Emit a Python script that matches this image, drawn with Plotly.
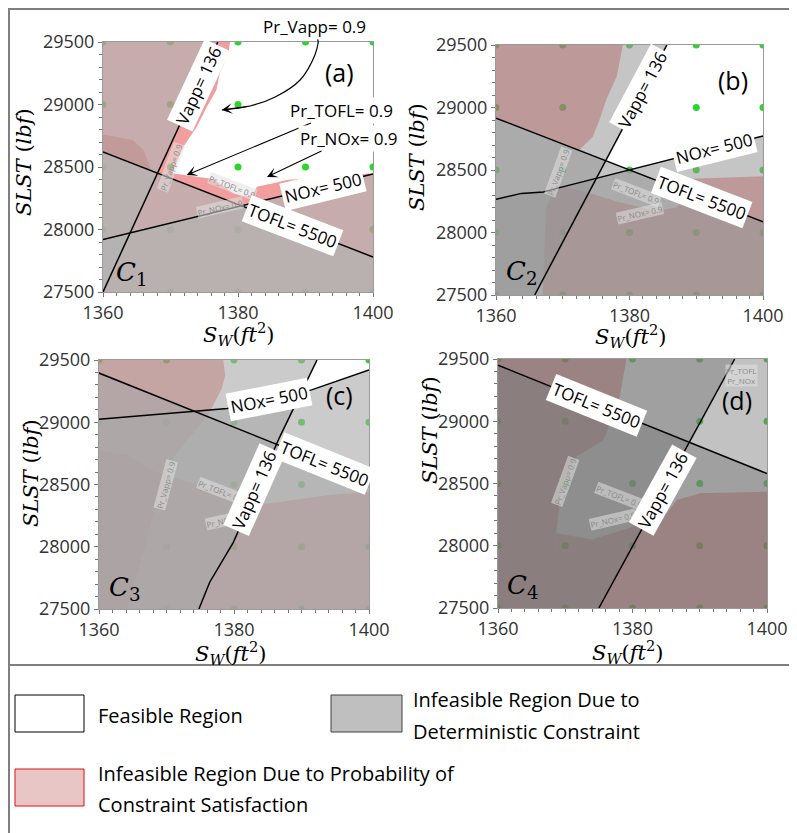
import plotly.graph_objects as go

# The page body adds an 8 px margin, so the figure is made 8 px smaller and every
# reference pixel position is shifted by that margin.
WIN_W, WIN_H = 797, 833
OFF = 8
W, H = WIN_W - OFF, WIN_H - OFF

# ---------------- data ----------------
X_RANGE = [1360, 1400]
Y_RANGE = [27500, 29500]
X_TICKS = [1360, 1380, 1400]
X_TICKTEXT = ["1360", "1380", "1400"]
Y_TICKS = [27500, 28000, 28500, 29000, 29500]
Y_TICKTEXT = ["27500", "28000", "28500", "29000", "29500"]
DOT_X = [1360, 1370, 1380, 1390, 1400]
DOT_Y = [27500, 28000, 28500, 29000, 29500]

# Panel (a)  C1
A_VAPP_X = [1360, 1377]
A_VAPP_Y = [27500, 29500]
A_TOFL_X = [1360, 1400]
A_TOFL_Y = [28620, 27780]
A_NOX_X = [1360, 1400]
A_NOX_Y = [27920, 28445]
A_PR_X = [1360, 1378.8, 1378.6, 1377.3, 1376.8, 1375.4, 1373.9, 1371.9, 1370.2, 1373.9, 1376.3,
          1379.3, 1381.3, 1382.3, 1382.8, 1385.2, 1387.2, 1393, 1400, 1400, 1360]
A_PR_Y = [29500, 29500, 29410, 29250, 29116, 28982, 28822, 28662, 28450, 28422, 28405,
          28290, 28262, 28290, 28343, 28370, 28396, 28425, 28450, 27500, 27500]
A_WEDGE_X = [1360, 1364.4, 1366, 1367.2, 1360]
A_WEDGE_Y = [28760, 28716, 28636, 28470, 28620]

# Panel (b)  C2
B_VAPP_X = [1365.8, 1385.6]
B_VAPP_Y = [27500, 29500]
B_TOFL_X = [1360, 1400]
B_TOFL_Y = [28915, 28085]
B_NOX_X = [1360, 1363.8, 1367.1, 1369.1, 1400]
B_NOX_Y = [28265, 28313, 28324, 28353, 28772]
B_PR1_X = [1360, 1379, 1378.1, 1376.5, 1375.5, 1374.5, 1372.5, 1360]
B_PR1_Y = [29500, 29500, 29250, 29060, 28900, 28766, 28660, 28915]
B_PR2_X = [1367, 1367.5, 1369, 1373, 1378, 1384, 1387, 1389, 1389.5, 1400, 1400]
B_PR2_Y = [27500, 28200, 28380, 28330, 28250, 28170, 28200, 28300, 28430, 28450, 27500]

# Panel (c)  C3
C_VAPP_X = [1374.8, 1376.4, 1379.9, 1386.8, 1392.3]
C_VAPP_Y = [27500, 27715, 28035, 28885, 29500]
C_TOFL_X = [1360, 1400]
C_TOFL_Y = [29395, 28525]
C_NOX_X = [1360, 1379, 1391.5, 1400]
C_NOX_Y = [29025, 29110, 29260, 29420]
C_PR1_X = [1360, 1378.4, 1378.7, 1378.2, 1376.2, 1373.7, 1371.3, 1369.3, 1368.3, 1366.8, 1365.3, 1364.3, 1360]
C_PR1_Y = [29500, 29500, 29380, 29273, 29058, 28898, 28737, 28522, 28311, 27990, 27717, 27500, 27500]
C_PR2_X = [1360, 1364.3, 1368.3, 1376.2, 1380, 1383.1, 1387, 1394, 1400, 1400, 1360]
C_PR2_Y = [28777, 28737, 28603, 28469, 28400, 28335, 28362, 28416, 28442, 27500, 27500]

# Panel (d)  C4
D_VAPP_X = [1375, 1395.2]
D_VAPP_Y = [27500, 29500]
D_TOFL_X = [1360, 1400]
D_TOFL_Y = [29450, 28580]
D_PR1_X = [1360, 1379.1, 1378.1, 1375.7, 1371.7, 1369.5, 1368.7, 1368, 1360]
D_PR1_Y = [29500, 29500, 29197, 28849, 28716, 28500, 28127, 27500, 27500]
D_PR2_X = [1368, 1368.7, 1374, 1380, 1385.1, 1386.6, 1390, 1400, 1400]
D_PR2_Y = [27500, 28100, 28050, 28150, 28260, 28367, 28421, 28434, 27500]

# --------------- styling ---------------
RED = "rgba(220,30,30,0.43)"
GREYS = {"a": "rgba(178,178,178,0.68)", "b": "rgba(150,150,150,0.55)",
         "c": "rgba(168,168,168,0.6)", "d": "rgba(120,120,120,0.45)"}
DOT = "#2bd62b"
SANS = "Open Sans"
SERIF = "DejaVu Serif"

BOXES = {  # pixel boxes of the four plot areas in the reference (left, right, top, bottom)
    "a": (103, 373, 42, 292),
    "b": (496, 763, 45, 295),
    "c": (99, 369, 360, 609),
    "d": (498, 767, 359, 608),
}
SUFFIX = {"a": "", "b": "2", "c": "3", "d": "4"}


def px(x):
    return (x - OFF) / W


def py(y):
    return 1 - (y - OFF) / H


def left_of(xs, ys):
    return xs + [X_RANGE[0], X_RANGE[0]], ys + [Y_RANGE[1], Y_RANGE[0]]


def below(xs, ys):
    return xs + [X_RANGE[1], X_RANGE[0]], ys + [Y_RANGE[0], Y_RANGE[0]]


FULL = ([X_RANGE[0], X_RANGE[1], X_RANGE[1], X_RANGE[0]],
        [Y_RANGE[0], Y_RANGE[0], Y_RANGE[1], Y_RANGE[1]])

PANELS = {
    "a": dict(
        prob=[(A_PR_X, A_PR_Y), (A_WEDGE_X, A_WEDGE_Y)],
        det=[left_of(A_VAPP_X, A_VAPP_Y), below(A_TOFL_X, A_TOFL_Y), below(A_NOX_X, A_NOX_Y)],
        lines=[(A_VAPP_X, A_VAPP_Y), (A_TOFL_X, A_TOFL_Y), (A_NOX_X, A_NOX_Y)],
        labels=[("Vapp= 136", 1374.1, 29156, -65), ("TOFL= 5500", 1388, 28030, 21),
                ("NOx= 500", 1392.6, 28335, -13.6)],
        small=[("Pr_TOFL= 0.9", 1379.2, 28345, 21), ("Pr_NOx= 0.9", 1377.3, 28180, -13),
               ("Pr_Vapp= 0.9", 1370.0, 28500, -70)],
        tag=("(a)", 1395.1, 29260), C=("1", 1364.2, 27650),
    ),
    "b": dict(
        prob=[(B_PR1_X, B_PR1_Y), (B_PR2_X, B_PR2_Y)],
        det=[left_of(B_VAPP_X, B_VAPP_Y), below(B_TOFL_X, B_TOFL_Y), below(B_NOX_X, B_NOX_Y)],
        lines=[(B_VAPP_X, B_VAPP_Y), (B_TOFL_X, B_TOFL_Y), (B_NOX_X, B_NOX_Y)],
        labels=[("Vapp= 136", 1382.0, 29140, -62), ("NOx= 500", 1392.6, 28672, -14),
                ("TOFL= 5500", 1390.8, 28276, 21)],
        small=[("Pr_Vapp= 0.9", 1369.3, 28480, -70), ("Pr_TOFL= 0.9", 1381.0, 28320, 21),
               ("Pr_NOx= 0.9", 1381.5, 28150, -13)],
        tag=("(b)", 1395.5, 29220), C=("2", 1363.8, 27676),
    ),
    "c": dict(
        prob=[(C_PR1_X, C_PR1_Y), (C_PR2_X, C_PR2_Y)],
        det=[left_of(C_VAPP_X, C_VAPP_Y), below(C_TOFL_X, C_TOFL_Y), below(C_NOX_X, C_NOX_Y)],
        lines=[(C_VAPP_X, C_VAPP_Y), (C_TOFL_X, C_TOFL_Y), (C_NOX_X, C_NOX_Y)],
        labels=[("NOx= 500", 1385.2, 29180, -11), ("TOFL= 5500", 1393.4, 28668, 22),
                ("Vapp= 136", 1383.0, 28460, -66)],
        small=[("Pr_Vapp= 0.9", 1369.8, 28496, -75), ("Pr_TOFL= 0.9", 1378.2, 28442, 21),
               ("Pr_NOx= 0.9", 1379.2, 28215, -13)],
        tag=("(c)", 1395.7, 29219), C=("3", 1363.8, 27666),
    ),
    "d": dict(
        prob=[(D_PR1_X, D_PR1_Y), (D_PR2_X, D_PR2_Y)],
        det=[left_of(D_VAPP_X, D_VAPP_Y), below(D_TOFL_X, D_TOFL_Y), FULL],
        lines=[(D_VAPP_X, D_VAPP_Y), (D_TOFL_X, D_TOFL_Y)],
        labels=[("TOFL= 5500", 1374.7, 29128, 22), ("Vapp= 136", 1384.6, 28448, -61)],
        small=[("Pr_Vapp= 0.9", 1370.0, 28515, -70), ("Pr_TOFL= 0.9", 1378.1, 28394, 21),
               ("Pr_NOx= 0.9", 1377.1, 28207, -13), ("Pr_TOFL<br>Pr_NOx", 1396.2, 29370, 0)],
        tag=("(d)", 1395.5, 29171), C=("4", 1363.7, 27671),
    ),
}

# axis-title pixel positions in the reference (centre)
YTITLE = {"a": (24, 162), "b": (417, 157), "c": (31, 473), "d": (430, 430)}
XTITLE = {"a": (238, 334), "b": (630, 336), "c": (230, 653), "d": (627, 652)}

fig = go.Figure()
annotations = []
layout_axes = {}

gx, gy = [], []
for yy in DOT_Y:
    for xx in DOT_X:
        gx.append(xx)
        gy.append(yy)

for key, P in PANELS.items():
    s = SUFFIX[key]
    xa, ya = "x" + s, "y" + s
    fig.add_trace(go.Scatter(x=gx, y=gy, mode="markers", xaxis=xa, yaxis=ya,
                             marker=dict(color=DOT, size=7), hoverinfo="skip"))
    for xs, ys in P["prob"]:
        fig.add_trace(go.Scatter(x=xs, y=ys, mode="none", fill="toself", fillcolor=RED,
                                 xaxis=xa, yaxis=ya, hoverinfo="skip"))
    for xs, ys in P["det"]:
        fig.add_trace(go.Scatter(x=xs, y=ys, mode="none", fill="toself", fillcolor=GREYS[key],
                                 xaxis=xa, yaxis=ya, hoverinfo="skip"))
    for xs, ys in P["lines"]:
        fig.add_trace(go.Scatter(x=xs, y=ys, mode="lines", line=dict(color="black", width=1.5),
                                 xaxis=xa, yaxis=ya, hoverinfo="skip"))

    l, r, t, b = BOXES[key]
    axcommon = dict(showgrid=False, zeroline=False, showline=True, mirror=True,
                    linecolor="#9a9a9a", linewidth=1, ticks="outside", ticklen=4,
                    tickcolor="#777", automargin=False,
                    tickfont=dict(family=SANS, size=18, color="#333"))
    layout_axes["xaxis" + s] = dict(domain=[px(l), px(r)], range=X_RANGE, anchor=ya,
                                     tickmode="array", tickvals=X_TICKS, ticktext=X_TICKTEXT,
                                     ticklabelstandoff=0,
                                     minor=dict(dtick=2, tick0=1360, ticks="outside", ticklen=3,
                                                tickcolor="#777"), **axcommon)
    layout_axes["yaxis" + s] = dict(domain=[py(b), py(t)], range=Y_RANGE, anchor=xa,
                                     tickmode="array", tickvals=Y_TICKS, ticktext=Y_TICKTEXT,
                                     ticklabelstandoff=0,
                                     minor=dict(dtick=100, tick0=27500, ticks="outside", ticklen=3,
                                                tickcolor="#777"), **axcommon)

    for txt, x, y, ang in P["small"]:
        annotations.append(dict(text=txt, x=x, y=y, xref=xa, yref=ya, showarrow=False,
                                textangle=ang, font=dict(family=SANS, size=8, color="#8a8a8a"),
                                bgcolor="rgba(225,225,225,0.55)", borderpad=0))
    for txt, x, y, ang in P["labels"]:
        annotations.append(dict(text=txt, x=x, y=y, xref=xa, yref=ya, showarrow=False,
                                textangle=ang, font=dict(family=SANS, size=17, color="black"),
                                bgcolor="white", borderpad=2))
    tg, tx, ty = P["tag"]
    annotations.append(dict(text=tg, x=tx, y=ty, xref=xa, yref=ya, showarrow=False,
                            font=dict(family=SANS, size=25, color="black")))
    cn, cx, cy = P["C"]
    annotations.append(dict(text="<i>C</i><sub>" + cn + "</sub>", x=cx, y=cy, xref=xa, yref=ya,
                            showarrow=False, font=dict(family=SERIF, size=26, color="black")))

    yx, yy = YTITLE[key]
    annotations.append(dict(text="<i>SLST</i> (<i>lbf</i>)", x=px(yx), y=py(yy), xref="paper",
                            yref="paper", xanchor="center", yanchor="middle", showarrow=False,
                            textangle=-90, font=dict(family=SERIF, size=21, color="black")))
    xx_, xy_ = XTITLE[key]
    annotations.append(dict(text="<i>S</i><sub><i>W</i></sub>(<i>ft</i><sup>2</sup>)", x=px(xx_),
                            y=py(xy_), xref="paper", yref="paper", xanchor="center",
                            yanchor="middle", showarrow=False,
                            font=dict(family=SERIF, size=21, color="black")))

# ---- call-outs in panel (a) ----
ARROW_VAPP_X = [1391.9, 1391.4, 1389.2, 1385.5, 1381.8, 1377.6]
ARROW_VAPP_Y = [29500, 29396, 29196, 29060, 28988, 28956]
fig.add_trace(go.Scatter(x=ARROW_VAPP_X, y=ARROW_VAPP_Y, mode="lines",
                         line=dict(color="black", width=1.2, shape="spline"),
                         xaxis="x", yaxis="y", hoverinfo="skip"))
annotations.append(dict(x=ARROW_VAPP_X[-1], y=ARROW_VAPP_Y[-1], ax=ARROW_VAPP_X[-2],
                        ay=ARROW_VAPP_Y[-2], xref="x", yref="y", axref="x", ayref="y",
                        text="", showarrow=True, arrowhead=3, arrowsize=1.6, arrowwidth=1.1,
                        arrowcolor="black"))
annotations.append(dict(text="Pr_Vapp= 0.9", x=ARROW_VAPP_X[0], y=ARROW_VAPP_Y[0], ax=1391.3,
                        ay=29625, xref="x", yref="y", axref="x", ayref="y", showarrow=True,
                        arrowhead=0, arrowwidth=1.2, arrowcolor="black",
                        font=dict(family=SANS, size=17, color="black"), bgcolor="white"))
annotations.append(dict(text="Pr_TOFL= 0.9", x=1372.4, y=28436, ax=1395.4, ay=28956,
                        xref="x", yref="y", axref="x", ayref="y", showarrow=True,
                        arrowhead=3, arrowsize=1.6, arrowwidth=1.1, arrowcolor="black",
                        font=dict(family=SANS, size=17, color="black"), bgcolor="white",
                        borderpad=1))
annotations.append(dict(text="Pr_NOx= 0.9", x=1384.3, y=28420, ax=1396.4, ay=28732,
                        xref="x", yref="y", axref="x", ayref="y", showarrow=True,
                        arrowhead=3, arrowsize=1.6, arrowwidth=1.1, arrowcolor="black",
                        font=dict(family=SANS, size=17, color="black"), bgcolor="white",
                        borderpad=1))

# ---- frame and legend ----
FRAME = "#7f7f7f"
shapes = [
    dict(type="rect", xref="paper", yref="paper", x0=px(9), x1=px(792), y0=py(665), y1=py(9),
         line=dict(color=FRAME, width=2), layer="above"),
    dict(type="line", xref="paper", yref="paper", x0=px(9), x1=px(9), y0=py(665), y1=py(833),
         line=dict(color=FRAME, width=2)),
    dict(type="rect", xref="paper", yref="paper", x0=px(15), x1=px(84), y0=py(732), y1=py(695),
         fillcolor="white", line=dict(color="black", width=1)),
    dict(type="rect", xref="paper", yref="paper", x0=px(331), x1=px(402), y0=py(732), y1=py(695),
         fillcolor="#bfbfbf", line=dict(color="#404040", width=1)),
    dict(type="rect", xref="paper", yref="paper", x0=px(15), x1=px(84), y0=py(806), y1=py(769),
         fillcolor="#e9c6c6", line=dict(color="#e01010", width=1)),
]
LEG_FONT = dict(family=SANS, size=20, color="black")
for txt, x, y in [("Feasible Region", 96, 715),
                  ("Infeasible Region Due to", 411, 699),
                  ("Deterministic Constraint", 411, 731),
                  ("Infeasible Region Due to Probability of", 96, 773),
                  ("Constraint Satisfaction", 96, 804)]:
    annotations.append(dict(text=txt, x=px(x), y=py(y), xref="paper", yref="paper",
                            xanchor="left", yanchor="middle", showarrow=False, font=LEG_FONT))

fig.update_layout(width=W, height=H, margin=dict(l=0, r=0, t=0, b=0, pad=0, autoexpand=False),
                  paper_bgcolor="white", plot_bgcolor="white", showlegend=False,
                  hovermode=False, annotations=annotations, shapes=shapes, **layout_axes)

fig.write_html("out.html")
